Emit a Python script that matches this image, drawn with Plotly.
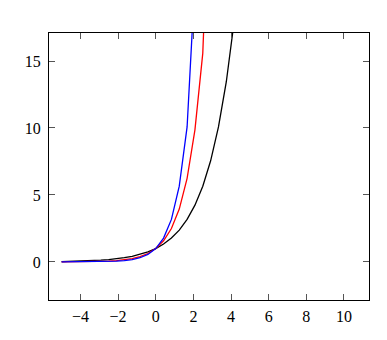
import plotly.graph_objects as go

# sample points (pgfplots default: 25 samples on [-5, 5])
x_vals = [-5.0, -4.5833, -4.1667, -3.75, -3.3333, -2.9167, -2.5, -2.0833, -1.6667,
          -1.25, -0.8333, -0.4167, 0.0, 0.4167, 0.8333, 1.25, 1.6667, 2.0833, 2.5,
          2.9167, 3.3333, 3.75, 4.1667, 4.5833, 5.0]

black_vals = [0.0313, 0.0417, 0.0557, 0.0743, 0.0992, 0.1324, 0.1768, 0.2360, 0.3150,
              0.4204, 0.5612, 0.7492, 1.0, 1.3348, 1.7818, 2.3784, 3.1748, 4.2378, 5.6569,
              7.5510, 10.079, 13.454, 17.959, 23.97, 32.0]

red_vals = [0.0041, 0.0065, 0.0103, 0.0163, 0.0257, 0.0406, 0.0642, 0.1014, 0.1602,
            0.2533, 0.4003, 0.6327, 1.0, 1.5806, 2.4980, 3.9482, 6.2403, 9.862, 15.588,
            24.64, 38.94, 61.55, 97.3, 153.8, 243.0]

blue_vals = [0.0010, 0.0017, 0.0031, 0.0055, 0.0098, 0.0175, 0.0313, 0.0557, 0.0992,
             0.1768, 0.3150, 0.5612, 1.0, 1.7818, 3.1748, 5.6569, 10.079, 17.959, 32.0,
             57.0, 101.6, 181.0, 322.5, 574.7, 1024.0]

x_ticks = [-4, -2, 0, 2, 4, 6, 8, 10]
y_ticks = [0, 5, 10, 15]

fig = go.Figure()
for vals, col in [(black_vals, "black"), (red_vals, "#ff0000"), (blue_vals, "#0000ff")]:
    fig.add_trace(go.Scatter(x=x_vals, y=vals, mode="lines",
                             line=dict(color=col, width=1.3), showlegend=False))

axis_common = dict(showgrid=False, zeroline=False, showline=True, linecolor="black",
                   linewidth=1, mirror="ticks", ticks="inside", ticklen=6,
                   tickcolor="#555555", tickwidth=1,
                   tickfont=dict(family="Times New Roman, serif", size=16, color="black"))

fig.update_layout(
    width=387, height=340,
    font=dict(family="Times New Roman, serif"),
    margin=dict(l=41, r=26, t=25, b=48),
    paper_bgcolor="white", plot_bgcolor="white",
    xaxis=dict(range=[-5.67, 11.33], tickvals=x_ticks, ticklabelstandoff=2, **axis_common),
    yaxis=dict(range=[-2.84, 17.09], tickvals=y_ticks, ticklabelstandoff=4, **axis_common),
)

fig.write_html("out.html")
